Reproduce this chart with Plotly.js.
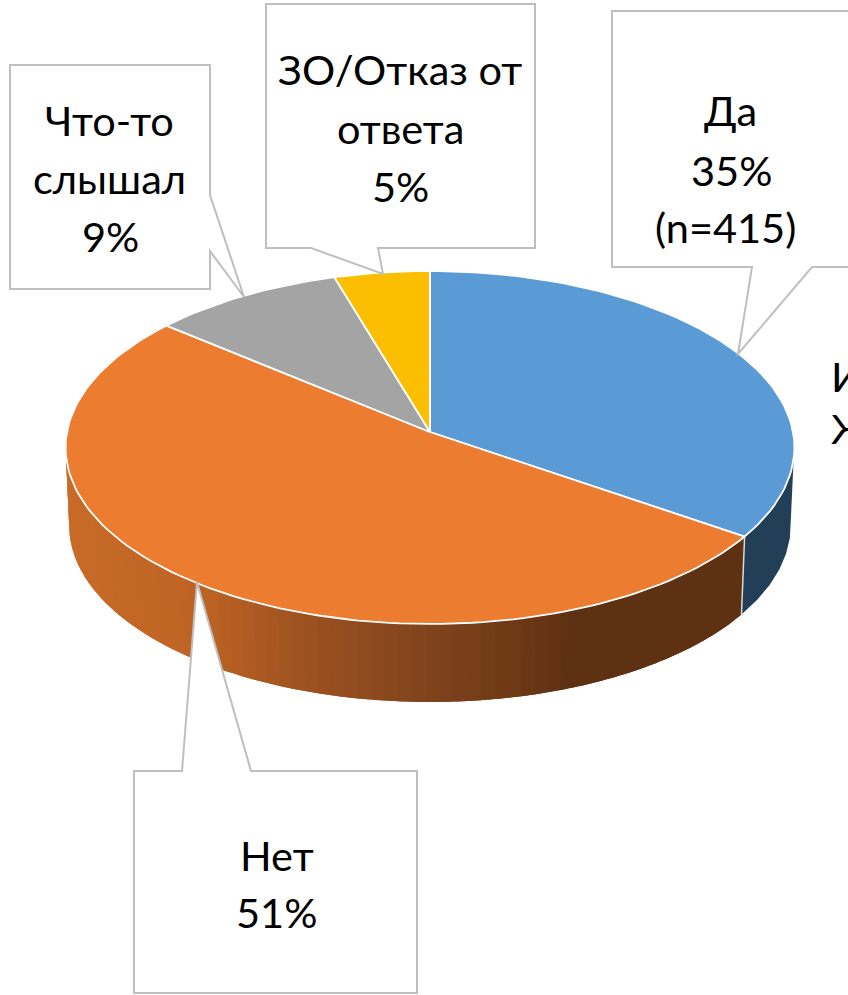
<!DOCTYPE html>
<html><head><meta charset="utf-8">
<script src="https://cdn.plot.ly/plotly-3.0.1.min.js"></script>
<style>html,body{margin:0;padding:0;background:#fff;overflow:hidden}#c{width:848px;height:995px}</style>
</head><body><div id="c"></div>
<script>
const categories = ['Да','Нет','Что-то слышал','ЗО/Отказ от ответа'];
const shares = [34.6, 51.49, 9.3, 4.61];
const colors = ['#5B9BD5','#EB7C30','#A4A4A4','#FBBE00'];
const blueWall = '#233F57';
const wallStops = [[67,[200,107,40]],[200,[190,99,36]],[310,[155,81,32]],[430,[128,67,28]],[520,[108,56,22]],[570,[95,49,19]],[800,[95,49,19]]];
const FONT = 'Lato, Carlito, "Open Sans", sans-serif';
const FS = 41.5;

// perspective projection of the disc
const cx=430, cy=432, R=363, A=175.1, K=0.0878;
function rim(t){const u=Math.sin(t),v=Math.cos(t),d=1+K*v;return [cx+R*u/d, cy-A*v/d];}
function bot(t){const p=rim(t);return [cx+(p[0]-cx)*0.99, p[1]+78];}
const rad=d=>d*Math.PI/180;
function wallColor(x){
  for(let i=1;i<wallStops.length;i++){
    if(x<=wallStops[i][0]){
      const a=wallStops[i-1],b=wallStops[i],f=Math.max(0,(x-a[0])/(b[0]-a[0]));
      return 'rgb('+a[1].map((c,j)=>Math.round(c+(b[1][j]-c)*f)).join(',')+')';
    }
  }
  return 'rgb(95,49,19)';
}
const edges=[0];shares.forEach(s=>edges.push(edges[edges.length-1]+s*3.6));
const traces=[];
function band(a,b,col){
  const n=6,xs=[],ys=[];
  for(let i=0;i<=n;i++){const p=rim(rad(a+(b-a)*i/n));xs.push(p[0]);ys.push(p[1]);}
  for(let i=n;i>=0;i--){const p=bot(rad(a+(b-a)*i/n));xs.push(p[0]);ys.push(p[1]);}
  xs.push(xs[0]);ys.push(ys[0]);
  traces.push({type:'scatter',mode:'none',x:xs,y:ys,fill:'toself',fillcolor:col,hoverinfo:'skip',showlegend:false});
}
// side wall: blue part
band(94,edges[1],blueWall);
// side wall: orange part; each band runs on under the next one so no seams show
const step=2, wallEnd=266;
for(let a=edges[1];a<wallEnd;a+=step){
  const m=rim(rad(a+step/2))[0];
  band(a,Math.min(a+step*2,wallEnd),wallColor(m));
}
// divider between blue and orange walls
{const p=rim(rad(edges[1])),q=bot(rad(edges[1]));
 traces.push({type:'scatter',mode:'lines',x:[p[0],q[0]],y:[p[1],q[1]],line:{color:'#d9d9d9',width:1.5},hoverinfo:'skip',showlegend:false});}
// top face slices
shares.forEach((s,i)=>{
  const xs=[cx],ys=[cy],a=edges[i],b=edges[i+1],n=Math.ceil((b-a)/1.5);
  for(let k=0;k<=n;k++){const p=rim(rad(a+(b-a)*k/n));xs.push(p[0]);ys.push(p[1]);}
  xs.push(cx);ys.push(cy);
  traces.push({type:'scatter',mode:'lines',name:categories[i],x:xs,y:ys,fill:'toself',fillcolor:colors[i],line:{color:'#fff',width:1.8},hoverinfo:'name',showlegend:false});
});

// callout boxes
const outline={color:'#BFBFBF',width:2};
const callout=d=>({type:'path',xref:'x',yref:'y',path:d,fillcolor:'#fff',line:outline,layer:'above'});
const shapes=[
  callout('M612,11 L860,11 L860,267 L812,267 L738,354 L752,267 L612,267 Z'),
  callout('M10,65 L210,65 L210,195 L244,297 L210,251 L210,289 L10,289 Z'),
  callout('M266,4 L535,4 L535,248 L378,248 L383,274 L311,248 L266,248 Z'),
  callout('M134,771 L182,771 L197,582 L251,771 L417,771 L417,993 L134,993 Z')
];
const pct=i=>Math.round(shares[i])+'%';
const lab=(x,y,t,anchor)=>({xref:'x',yref:'y',x:x,y:y,text:t,showarrow:false,xanchor:anchor||'center',yanchor:'middle',font:{family:FONT,size:FS,color:'#000'}});
const annotations=[
  lab(730,110,'Да'),lab(731,170,pct(0)),lab(725.5,227,'(n=415)'),
  lab(109,120,'Что-то'),lab(109,178,'слышал'),lab(110,236,pct(2)),
  lab(400,69,'ЗО/Отказ от'),lab(400,128,'ответа'),lab(400,186,pct(3)),
  lab(277,855,'Нет'),lab(276,912,pct(1)),
  lab(829,376,'И','left'),lab(829,428,'Ж','left')
];
const hidden={visible:false,fixedrange:true};
Plotly.newPlot('c',traces,{
  width:848,height:995,margin:{l:0,r:0,t:0,b:0},paper_bgcolor:'#fff',plot_bgcolor:'#fff',showlegend:false,
  xaxis:Object.assign({range:[0,848]},hidden),
  yaxis:Object.assign({range:[995,0]},hidden),
  shapes,annotations
},{displayModeBar:false,staticPlot:true});
</script></body></html>
